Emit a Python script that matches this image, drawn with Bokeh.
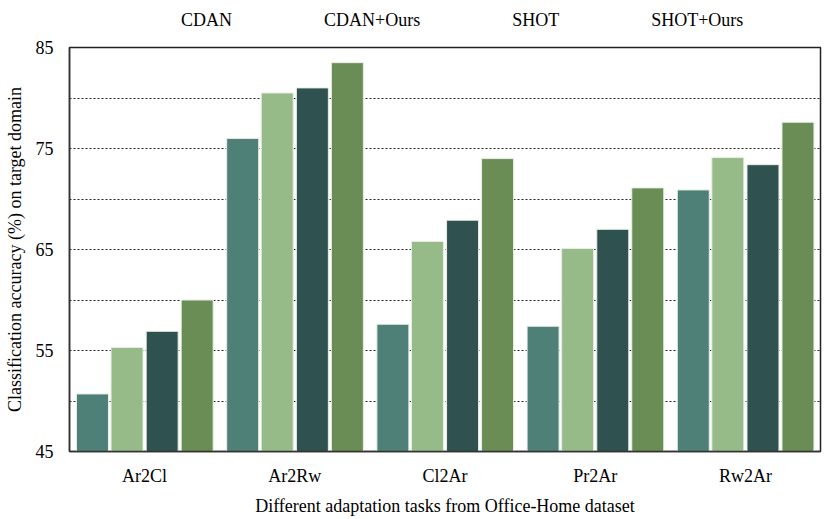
from bokeh.plotting import figure
from bokeh.layouts import column
from bokeh.models import FactorRange, Range1d, FixedTicker, Legend, LegendItem, ColumnDataSource, CDSView, IndexFilter
from bokeh.transform import dodge
from bokeh.embed import file_html
from bokeh.resources import INLINE

tasks = ["Ar2Cl", "Ar2Rw", "Cl2Ar", "Pr2Ar", "Rw2Ar"]
series = ["CDAN", "CDAN+Ours", "SHOT", "SHOT+Ours"]
cdan = [50.7, 76.0, 57.6, 57.4, 70.9]
cdan_ours = [55.3, 80.5, 65.8, 65.1, 74.1]
shot = [56.9, 81.0, 67.9, 67.0, 73.4]
shot_ours = [60.0, 83.5, 74.0, 71.1, 77.6]
y_ticks = [45, 55, 65, 75, 85]
grid_ticks = [50, 55, 60, 65, 70, 75, 80]

colors = ["#4f8078", "#97bb88", "#2f5250", "#6a8d55"]
offsets = [-0.347, -0.117, 0.117, 0.35]
FONT = "Liberation Serif"

src = ColumnDataSource(dict(task=tasks, s0=cdan, s1=cdan_ours, s2=shot, s3=shot_ours))
cols = ["s0", "s1", "s2", "s3"]

p = figure(x_range=FactorRange(*tasks), y_range=Range1d(45, 85),
           width=830, height=484, output_backend="svg", toolbar_location=None,
           min_border_left=69, min_border_right=10, min_border_bottom=68, min_border_top=12)

renderers = []
for i, col in enumerate(cols):
    r = p.vbar(x=dodge("task", offsets[i], range=p.x_range), top=col, bottom=45, width=0.213,
               source=src, fill_color=colors[i], line_color="#e6efe4", line_width=1)
    renderers.append(r)

p.yaxis.ticker = FixedTicker(ticks=y_ticks)
p.ygrid.ticker = FixedTicker(ticks=grid_ticks)
p.ygrid.grid_line_color = "#222222"
p.ygrid.grid_line_dash = "2 2"
p.ygrid.grid_line_width = 1
p.xgrid.grid_line_color = None

for ax in (p.xaxis, p.yaxis):
    ax.major_tick_line_color = None
    ax.minor_tick_line_color = None
    ax.axis_line_color = "#333333"
    ax.axis_line_width = 1.5
    ax.major_label_text_font = FONT
    ax.major_label_text_font_size = "18px"
    ax.major_label_text_color = "black"
    ax.axis_label_text_font = FONT
    ax.axis_label_text_font_size = "18px"
    ax.axis_label_text_font_style = "normal"
    ax.axis_label_text_color = "black"

p.xaxis.axis_label = "Different adaptation tasks from Office-Home dataset"
p.yaxis.axis_label = "Classification accuracy (%) on target domain"
p.xaxis.major_label_standoff = 8
p.yaxis.major_label_standoff = 10
p.xaxis.axis_label_standoff = 7
p.yaxis.axis_label_standoff = 8

p.outline_line_color = "#222222"
p.outline_line_width = 1.5
p.outline_line_alpha = 1

# legend strip above the plot (its renderers draw no bars, only the legend shows)
lg = figure(width=830, height=35, output_backend="svg", toolbar_location=None,
            x_range=FactorRange(*tasks), y_range=Range1d(0, 1), x_axis_type=None, y_axis_type=None,
            min_border_left=0, min_border_right=0, min_border_top=0, min_border_bottom=0)
lg.outline_line_color = None
lg.xgrid.grid_line_color = None
lg.ygrid.grid_line_color = None
lg_renderers = []
for i, col in enumerate(cols):
    d = lg.vbar(x=dodge("task", offsets[i], range=lg.x_range), top=col, bottom=45, width=0.213,
                source=src, view=CDSView(filter=IndexFilter(indices=[])),
                fill_color=colors[i], line_color="#e6efe4", line_width=1)
    lg_renderers.append(d)

legend = Legend(items=[LegendItem(label=s, renderers=[r]) for s, r in zip(series, lg_renderers)],
                orientation="horizontal", location=(84, 4),
                label_text_font=FONT, label_text_font_size="18px", label_text_color="black",
                glyph_width=16, glyph_height=16, label_standoff=12, spacing=64,
                border_line_color=None, background_fill_alpha=0, padding=0, margin=0)
lg.add_layout(legend)

layout = column(lg, p, spacing=0)
open("out.html", "w").write(file_html(layout, INLINE))
